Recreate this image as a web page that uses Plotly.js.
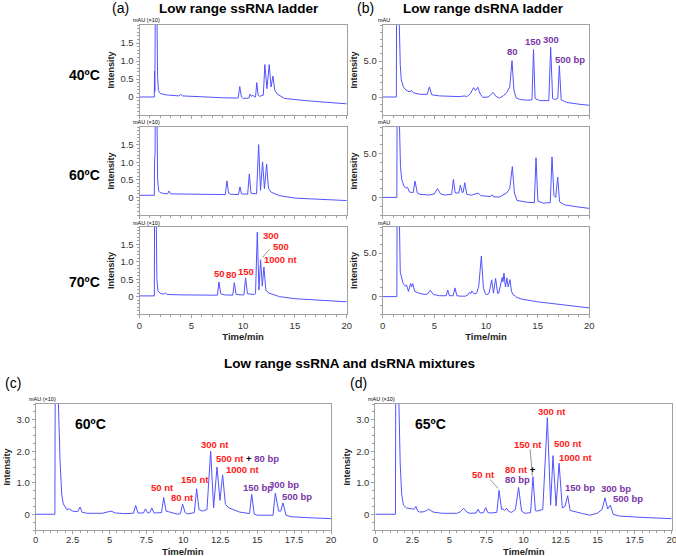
<!DOCTYPE html>
<html><head><meta charset="utf-8">
<script src="https://cdn.plot.ly/plotly-3.0.1.min.js"></script>
<style>html,body{margin:0;padding:0;background:#fff}#chart{width:676px;height:556px}</style>
</head><body><div id="chart"></div>
<script>
// ---- data: [time (min), intensity] ----
const ss40 = [[0,0],[1.43,0],[1.45,0.72],[1.48,0.15],[1.53,2.6],[1.68,2.6],[1.74,0.6],[1.83,0.18],[2.0,0.1],[2.5,0.06],[3.8,0.03],[3.97,0.07],[4.15,0.03],[6,0.0],[8,-0.02],[9.52,-0.03],[9.68,0.29],[9.84,0.0],[10.0,-0.04],[10.55,-0.03],[10.68,0.08],[10.8,0.02],[10.95,0.05],[11.1,0.0],[11.2,0.0],[11.32,0.4],[11.45,0.05],[11.6,0.02],[11.95,0.05],[12.1,0.9],[12.3,0.23],[12.52,0.9],[12.7,0.28],[12.88,0.58],[13.05,0.2],[13.3,0.08],[14,-0.04],[16,-0.1],[18,-0.15],[20,-0.19]];
const ss60 = [[0,0.06],[1.43,0.06],[1.46,1.1],[1.5,1.2],[1.53,2.6],[1.68,2.6],[1.75,0.5],[1.85,0.18],[2.0,0.14],[2.2,0.12],[2.7,0.1],[2.85,0.18],[3.0,0.1],[5,0.09],[8.28,0.08],[8.44,0.47],[8.6,0.12],[8.8,0.09],[9.55,0.08],[9.7,0.3],[9.85,0.1],[10.44,0.09],[10.6,0.67],[10.76,0.12],[11.3,0.1],[11.5,1.5],[11.68,0.2],[11.88,1.01],[12.06,0.25],[12.27,0.95],[12.45,0.25],[12.7,0.15],[13.5,0.05],[15,-0.02],[17.5,-0.06],[20,-0.09]];
const ss70 = [[0,0.02],[1.43,0.02],[1.46,2.6],[1.6,2.6],[1.68,0.5],[1.78,0.16],[2.0,0.1],[2.35,0.07],[2.5,0.11],[2.65,0.06],[4,0.05],[7.52,0.04],[7.67,0.42],[7.84,0.08],[8.2,0.05],[9.0,0.04],[9.15,0.4],[9.32,0.07],[9.7,0.05],[10.08,0.05],[10.24,0.54],[10.42,0.08],[11.1,0.06],[11.2,0.08],[11.37,1.85],[11.53,0.19],[11.69,1.06],[11.85,0.3],[12.01,0.85],[12.2,0.18],[12.5,0.1],[13.5,0.0],[15,-0.06],[17.5,-0.1],[20,-0.15]];
const ds40 = [[0,0],[1.32,0],[1.34,10.5],[1.6,10.5],[1.7,4.5],[1.8,2.4],[2.0,1.4],[2.15,1.1],[2.45,0.8],[2.65,0.75],[2.8,0.9],[2.95,0.6],[3.5,0.4],[4.3,0.35],[4.52,1.4],[4.75,0.3],[5.5,0.15],[6.5,0.1],[7.5,0.05],[7.9,0.15],[8.1,0.05],[8.3,0.2],[8.5,0.5],[8.8,1.3],[9.0,0.9],[9.2,1.35],[9.45,0.4],[9.7,-0.05],[10.2,0.0],[10.45,0.3],[10.7,0.64],[10.95,0.1],[11.3,-0.15],[11.7,0.2],[12.0,0.6],[12.3,1.4],[12.52,5.05],[12.7,1.0],[12.9,-0.1],[13.3,-0.35],[14.0,-0.45],[14.45,-0.4],[14.6,6.6],[14.75,-0.2],[15.2,-0.5],[16.08,-0.5],[16.26,6.9],[16.45,-0.2],[16.65,-0.35],[16.95,-0.2],[17.1,4.35],[17.28,-0.4],[17.8,-0.75],[19,-1.0],[20,-1.15]];
const ds60 = [[0,0],[1.37,0],[1.39,8.5],[1.62,8.5],[1.72,3.5],[1.85,2.0],[2.05,1.3],[2.25,1.05],[2.4,1.15],[2.6,0.6],[2.95,0.55],[3.13,1.85],[3.35,0.5],[3.6,0.35],[4.5,0.27],[5.0,0.4],[5.3,1.0],[5.6,0.4],[6.0,0.27],[6.68,0.35],[6.84,2.05],[7.02,0.5],[7.36,0.5],[7.52,1.4],[7.7,0.55],[7.8,0.6],[7.94,1.67],[8.15,0.35],[8.6,0.25],[8.9,0.4],[9.1,0.5],[9.25,0.5],[9.5,0.2],[10.0,0.15],[10.45,0.1],[10.6,0.3],[10.75,0.05],[11.3,0.05],[12.0,0.5],[12.3,1.0],[12.55,3.5],[12.75,0.5],[13.0,-0.35],[14.0,-0.55],[14.68,-0.6],[14.84,4.5],[15.02,-0.4],[15.5,-0.65],[16.22,-0.6],[16.39,4.6],[16.58,0.2],[16.75,0.0],[16.94,2.3],[17.12,-0.5],[17.6,-0.85],[19,-1.1],[20,-1.25]];
const ds70 = [[0,0],[1.37,0],[1.39,8.5],[1.62,8.5],[1.7,2.8],[1.85,2.0],[1.97,1.55],[2.1,1.3],[2.2,1.2],[2.3,1.35],[2.5,0.6],[2.7,1.5],[2.8,1.1],[2.9,1.5],[3.02,0.9],[3.1,0.6],[3.5,0.4],[4.0,0.25],[4.35,0.3],[4.6,0.73],[4.9,0.25],[5.5,0.1],[6.15,0.1],[6.3,0.75],[6.46,0.1],[6.82,0.1],[7.0,1.0],[7.18,0.1],[7.5,0.05],[8.0,0.05],[8.25,0.2],[8.42,0.5],[8.52,0.35],[8.62,0.65],[8.85,0.3],[9.1,0.4],[9.3,1.2],[9.55,4.66],[9.75,1.0],[9.95,0.3],[10.1,0.23],[10.3,0.4],[10.55,1.93],[10.72,0.4],[10.93,2.1],[11.12,0.4],[11.22,0.35],[11.45,1.5],[11.57,2.2],[11.64,1.7],[11.74,2.7],[11.88,1.1],[12.02,2.15],[12.15,1.1],[12.32,1.95],[12.47,0.6],[12.6,0.25],[12.84,0.05],[13.0,-0.1],[13.5,-0.3],[15,-0.6],[17.5,-0.95],[20,-1.3]];
const mix60 = [[0,0],[1.3,0],[1.32,3.8],[1.52,3.8],[1.65,1.7],[1.76,0.63],[1.87,0.33],[2.0,0.2],[2.1,0.15],[2.26,0.17],[2.5,0.1],[2.85,0.08],[3.0,0.23],[3.15,0.06],[3.5,0.03],[4.5,0.03],[4.8,0.06],[5.1,0.1],[5.4,0.04],[6.0,0.02],[6.62,0.03],[6.77,0.28],[6.93,0.04],[7.3,0.04],[7.43,0.17],[7.58,0.04],[7.72,0.05],[7.86,0.2],[8.02,0.04],[8.52,0.05],[8.67,0.53],[8.83,0.1],[9.0,0.08],[9.2,0.06],[9.6,0.0],[9.8,0.02],[9.95,0.32],[10.12,0.05],[10.3,0.01],[10.74,0.05],[10.9,0.81],[11.06,0.15],[11.3,0.1],[11.6,0.15],[11.85,2.0],[12.05,0.2],[12.28,1.5],[12.48,0.44],[12.66,1.25],[12.85,0.31],[13.1,0.2],[13.8,0.07],[14.3,0.02],[14.48,0.02],[14.63,0.63],[14.8,0.0],[15.0,-0.03],[16.07,-0.03],[16.23,0.67],[16.45,0.1],[16.6,0.1],[16.75,0.36],[16.95,-0.03],[17.3,-0.08],[18.5,-0.11],[20,-0.14]];
const mix65 = [[0,0],[1.36,0],[1.38,3.8],[1.58,3.8],[1.68,1.6],[1.78,0.63],[1.9,0.29],[2.1,0.2],[2.5,0.17],[2.62,0.16],[2.74,0.25],[2.86,0.1],[3.0,0.07],[3.3,0.08],[3.6,0.16],[3.9,0.07],[4.5,0.03],[5.5,0.03],[5.75,0.08],[5.96,0.19],[6.2,0.06],[6.4,0.03],[6.8,0.04],[6.93,0.16],[7.07,0.04],[7.3,0.05],[7.45,0.21],[7.6,0.05],[7.8,0.04],[8.2,0.06],[8.35,0.76],[8.52,0.15],[8.6,0.17],[8.72,0.12],[8.86,0.19],[9.0,0.09],[9.2,0.06],[9.45,0.15],[9.67,0.85],[9.87,0.1],[10.1,0.03],[10.48,0.05],[10.64,1.19],[10.8,0.12],[10.9,0.1],[11.3,0.15],[11.61,3.07],[11.83,0.29],[11.99,1.86],[12.2,0.26],[12.4,1.62],[12.62,0.2],[12.8,0.25],[12.98,0.59],[13.15,0.12],[13.3,0.1],[14,0.02],[14.5,-0.03],[15.0,0.04],[15.3,0.15],[15.5,0.52],[15.68,0.17],[15.86,0.29],[16.05,0.0],[16.5,-0.06],[18,-0.1],[20,-0.14]];

// tick labels
const ssTickVals = [0,0.5,1,1.5], ssTickText = ["0","0.5","1.0","1.5"];
const dsTickVals = [0,5], dsTickText = ["0","5.0"];
const mixTickVals = [0,1,2,3], mixTickText = ["0","1.0","2.0","3.0"];

// ---- layout helpers ----
const W = 676, H = 556;
const px = x => x / W, py = y => 1 - y / H;
const BLUE = '#5252ff', RED = '#ff1a1a', PURP = '#7a35a8';
const FONT = 'Liberation Sans, Arial, sans-serif';

function tr(pts, n) {
  return {x: pts.map(p => p[0]), y: pts.map(p => p[1]), type: 'scatter', mode: 'lines',
    line: {color: BLUE, width: 1}, xaxis: 'x' + (n === 1 ? '' : n), yaxis: 'y' + (n === 1 ? '' : n),
    hoverinfo: 'skip', showlegend: false};
}
const data = [tr(ss40,1), tr(ss60,2), tr(ss70,3), tr(ds40,4), tr(ds60,5), tr(ds70,6), tr(mix60,7), tr(mix65,8)];

function xax(domain, anchor, labels, dtick, minor, title, standoff) {
  const a = {domain: domain, anchor: anchor, range: [0, 20], dtick: dtick, tick0: 0,
    showline: true, mirror: true, linecolor: '#a0a0a0', linewidth: 1, showgrid: false, zeroline: false,
    ticks: 'outside', ticklen: 3, tickcolor: '#a0a0a0', showticklabels: labels, ticklabeloverflow: 'allow',
    minor: {dtick: minor, ticks: 'outside', ticklen: 2, tickcolor: '#a0a0a0', showgrid: false},
    tickfont: {family: FONT, size: 9.5, color: '#333'}};
  if (standoff !== undefined) a.ticklabelstandoff = standoff;
  if (title) a.title = {text: '<b>Time/min</b>', font: {family: FONT, size: 9.5, color: '#222'}, standoff: 2};
  return a;
}
function yax(domain, anchor, range, vals, text, minor) {
  return {domain: domain, anchor: anchor, range: range, tickvals: vals, ticktext: text,
    showline: true, mirror: true, linecolor: '#a0a0a0', linewidth: 1, showgrid: false, zeroline: false,
    ticks: 'outside', ticklen: 3, tickcolor: '#a0a0a0',
    minor: {dtick: minor, tick0: 0, ticks: 'outside', ticklen: 2, tickcolor: '#a0a0a0', showgrid: false},
    tickfont: {family: FONT, size: 9.5, color: '#333'},
    title: {text: '<b>Intensity</b>', font: {family: FONT, size: 9, color: '#222'}, standoff: 4}};
}
const dA = [px(139.5), px(346.7)], dB = [px(382.7), px(589.3)];
const dC = [px(35.7), px(331)], dD = [px(375.3), px(671.7)];
const r1 = [py(115), py(25)], r2 = [py(215), py(127)], r3 = [py(314), py(227)], r4 = [py(530), py(404)];

const layout = {
  width: W, height: H, margin: {l: 0, r: 0, t: 0, b: 0}, paper_bgcolor: '#fff', plot_bgcolor: '#fff',
  font: {family: FONT},
  xaxis: xax(dA, 'y', false, 5, 1), yaxis: yax(r1, 'x', [-0.5, 2.0], ssTickVals, ssTickText, 0.1),
  xaxis2: xax(dA, 'y2', false, 5, 1), yaxis2: yax(r2, 'x2', [-0.5, 2.0], ssTickVals, ssTickText, 0.1),
  xaxis3: xax(dA, 'y3', true, 5, 1, true), yaxis3: yax(r3, 'x3', [-0.5, 2.0], ssTickVals, ssTickText, 0.1),
  xaxis4: xax(dB, 'y4', false, 5, 1), yaxis4: yax(r1, 'x4', [-2.5, 10], dsTickVals, dsTickText, 1),
  xaxis5: xax(dB, 'y5', false, 5, 1), yaxis5: yax(r2, 'x5', [-2, 8], dsTickVals, dsTickText, 1),
  xaxis6: xax(dB, 'y6', true, 5, 1, true), yaxis6: yax(r3, 'x6', [-2, 8], dsTickVals, dsTickText, 1),
  xaxis7: xax(dC, 'y7', true, 2.5, 0.5, false, -2), yaxis7: yax(r4, 'x7', [-0.5, 3.5], mixTickVals, mixTickText, 0.25),
  xaxis8: xax(dD, 'y8', true, 2.5, 0.5, false, -2), yaxis8: yax(r4, 'x8', [-0.5, 3.5], mixTickVals, mixTickText, 0.25),
  annotations: [], shapes: []
};

function pa(text, x, y, size, opts) {
  layout.annotations.push(Object.assign({text: text, x: px(x), y: py(y), xref: 'paper', yref: 'paper',
    showarrow: false, xanchor: 'center', yanchor: 'middle', font: {family: FONT, size: size, color: '#000'}}, opts || {}));
}
// headings
pa('(a)', 120, 8, 14);
pa('<b>Low range ssRNA ladder</b>', 239, 8, 13.5);
pa('(b)', 365, 8, 14);
pa('<b>Low range dsRNA ladder</b>', 483, 8, 13.5);
pa('<b>Low range ssRNA and dsRNA mixtures</b>', 349, 363, 13.5);
pa('(c)', 12.5, 383, 14);
pa('(d)', 358, 383, 14);
pa('<b>40ºC</b>', 84, 75, 14);
pa('<b>60ºC</b>', 84, 175, 14);
pa('<b>70ºC</b>', 84, 282, 14);
// x-axis titles of the two lower panels
pa('<b>Time/min</b>', 183.4, 551.5, 9.5, {font: {family: FONT, size: 9.5, color: '#222'}});
pa('<b>Time/min</b>', 523.5, 551.5, 9.5, {font: {family: FONT, size: 9.5, color: '#222'}});
// unit labels
[[131,20],[131,122],[131,223],[27,399],[366,399]].forEach(p => pa('mAU (×10)', p[0], p[1], 5.5, {xanchor: 'left'}));
[[376,20],[376,122],[376,223]].forEach(p => pa('mAU', p[0], p[1], 5.5, {xanchor: 'left'}));

// data-anchored labels
function da(n, text, x, y, color, anchor, size) {
  const s = n === 1 ? '' : n;
  layout.annotations.push({text: '<b>' + text + '</b>', x: x, y: y, xref: 'x' + s, yref: 'y' + s,
    showarrow: false, xanchor: anchor || 'center', yanchor: 'middle',
    font: {family: FONT, size: size || 9.5, color: color}});
}
da(3, '50', 7.75, 0.66, RED); da(3, '80', 8.92, 0.63, RED); da(3, '150', 10.32, 0.72, RED);
da(3, '300', 11.75, 1.76, RED, 'left'); da(3, '500', 12.65, 1.45, RED, 'left'); da(3, '1000 nt', 11.8, 1.08, RED, 'left');
da(4, '80', 12.55, 6.25, PURP); da(4, '150', 14.55, 7.65, PURP); da(4, '300', 16.3, 8.0, PURP);
da(4, '500 bp', 16.5, 5.27, PURP, 'left');
da(7, '60ºC', 2.5, 2.85, '#000', 'left', 14);
da(7, '50 nt', 8.56, 0.84, RED); da(7, '80 nt', 9.95, 0.52, RED); da(7, '150 nt', 10.77, 1.1, RED);
da(7, '300 nt', 12.16, 2.23, RED);
da(7, '<span style="color:' + RED + '">500 nt</span> + <span style="color:' + PURP + '">80 bp</span>', 12.09, 1.78, '#000', 'left');
da(7, '1000 nt', 12.75, 1.43, RED, 'left');
da(7, '150 bp', 13.9, 0.84, PURP, 'left'); da(7, '300 bp', 15.68, 0.93, PURP, 'left'); da(7, '500 bp', 16.54, 0.55, PURP, 'left');
da(8, '65ºC', 2.56, 2.85, '#000', 'left', 14);
da(8, '50 nt', 7.27, 1.27, RED);
da(8, '<span style="color:' + RED + '">80 nt</span> +', 8.6, 1.43, '#000', 'left');
da(8, '80 bp', 8.6, 1.09, PURP, 'left');
da(8, '150 nt', 10.33, 2.23, RED); da(8, '300 nt', 11.92, 3.25, RED);
da(8, '500 nt', 11.9, 2.26, RED, 'left'); da(8, '1000 nt', 12.24, 1.8, RED, 'left');
da(8, '150 bp', 12.64, 0.84, PURP, 'left'); da(8, '300 bp', 15.11, 0.82, PURP, 'left'); da(8, '500 bp', 15.88, 0.5, PURP, 'left');

// leader lines
function ln(n, x0, y0, x1, y1) {
  const s = n === 1 ? '' : n;
  layout.shapes.push({type: 'line', xref: 'x' + s, yref: 'y' + s, x0: x0, y0: y0, x1: x1, y1: y1,
    line: {color: '#777', width: 0.8}});
}
ln(3, 12.55, 1.36, 11.85, 1.12);
ln(8, 7.74, 1.1, 8.3, 0.82);
ln(8, 10.45, 2.06, 10.6, 1.22);

Plotly.newPlot('chart', data, layout, {staticPlot: true, displayModeBar: false});
</script></body></html>
